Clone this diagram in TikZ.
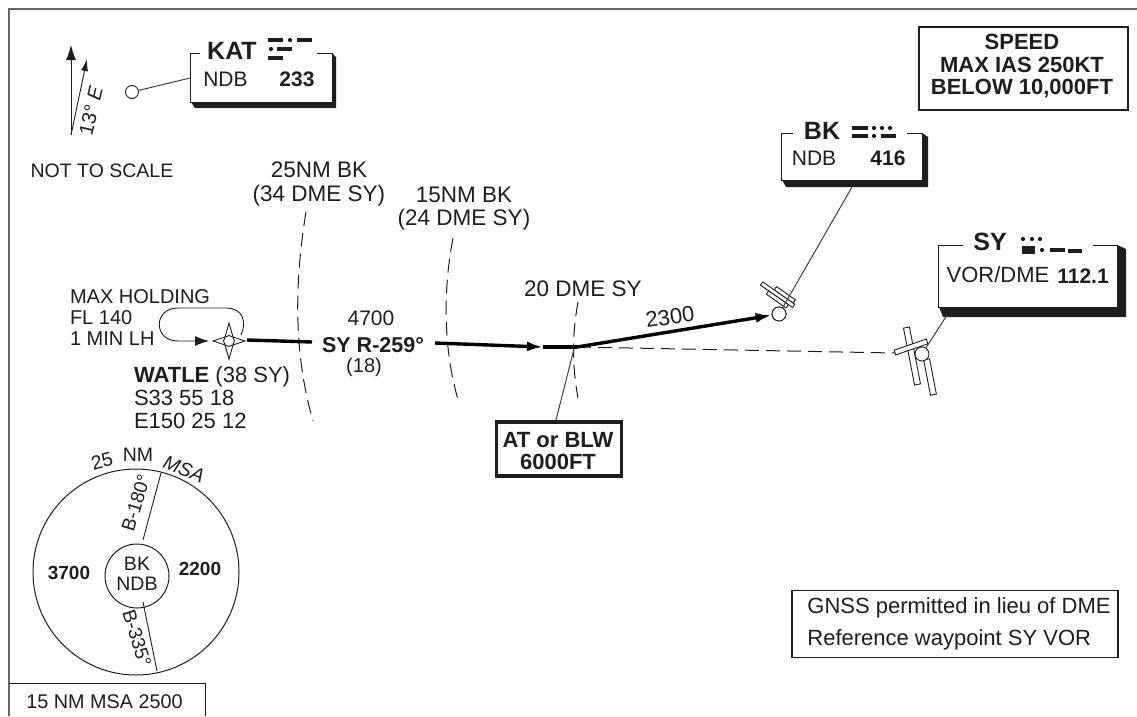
\documentclass[tikz,border=0pt]{standalone}
\usepackage{fontspec}
\setmainfont{Liberation Sans}
\usetikzlibrary{arrows.meta}
\newcommand{\fsz}[1]{\fontsize{#1}{#1}\selectfont}
\newcommand{\fszl}[2]{\fontsize{#1}{#2}\selectfont}
\newcommand{\mrsdash}[3]{\fill[ink] (#1,#3-2) rectangle (#2,#3+2);}
\newcommand{\mrsdot}[2]{\fill[ink] (#1,#2) circle (2.1);}
% x1 y1 x2 y2 gap1 gap2 sx sy
\newcommand{\navbox}[8]{%
  \fill[ink] (#1+1,#4) -- (#3,#4) -- (#3,#2) -- (#3+#7,#2+4) -- (#3+#7,#4+#8) -- (#1+5,#4+#8) -- cycle;
  \fill[white] (#1,#2) rectangle (#3,#4);
  \draw[thinline] (#5,#2) -- (#1,#2) -- (#1,#4) -- (#3,#4) -- (#3,#2) -- (#6,#2);
}
\tikzset{
  x=1pt,y=-1pt,
  ink/.style={color=inkc},
  thinline/.style={draw=inkc,line width=0.9pt},
  leader/.style={draw=inkc!85,line width=1pt},
  track/.style={draw=black,line width=3.4pt},
  dmearc/.style={draw=inkc,line width=1pt,dash pattern=on 14pt off 7pt},
  lbl/.style={text=inkc,inner sep=0pt,outer sep=0pt,align=center,anchor=center},
  lbll/.style={text=inkc,inner sep=0pt,outer sep=0pt,align=left,anchor=west},
  navaid/.style={circle,draw=inkc,line width=0.9pt,fill=white,inner sep=0pt,minimum size=13pt},
  symbar/.style={draw=inkc,line width=0.9pt,fill=white},
  txtbox/.style={draw=inkc,line width=1.1pt,fill=white,inner sep=0pt},
}
\definecolor{inkc}{HTML}{1E1E1E}
\begin{document}
\begin{tikzpicture}
\useasboundingbox (0,0) rectangle (1137,716);
\fill[white] (0,0) rectangle (1137,716);
% frame
\draw[draw=gray!80!black,line width=1.2pt] (9,716) -- (9,9) -- (1137,9);

% north arrows
\coordinate (nbase) at (71,135);
\coordinate (ntrue) at (71,45);
\coordinate (nmag) at (87,59);
\draw[thinline,-{Latex[length=15pt,width=10pt]}] (nbase) -- (ntrue);
\draw[thinline,-{Latex[length=12pt,width=7pt]}] (nbase) -- (nmag);
\node[lbl,rotate=77,font={\fsz{20}}] (var) at (91,111) {13° \textit{E}};

% KAT
\navbox{190}{53}{332}{102}{200}{317}{4}{6}
\node[navaid] (katc) at (132,92) {};
\coordinate (katend) at (190,78);
\draw[leader] (katc) -- (katend);
\node[lbl,font={\fsz{25}\bfseries}] (katname) at (232,51) {KAT};
\node[lbl,font={\fsz{21}}] (katndb) at (225.5,79) {NDB};
\node[lbl,font={\fsz{21}\bfseries}] (katfrq) at (297,79) {233};
\mrsdash{268}{283}{40}\mrsdot{290}{40}\mrsdash{297}{312}{40}
\mrsdot{271}{49}\mrsdash{277}{292}{49}
\mrsdash{268}{283}{58}

\node[lbl,font={\fsz{19.5}}] (nts) at (102,171) {NOT TO SCALE};

% speed box
\node[txtbox,line width=1.6pt,minimum width=209pt,minimum height=83pt] (speed) at (1023.5,68.5) {};
\node[lbl,font={\fszl{22}{22.5}\bfseries}] (speedt) at (1022,66.5) {SPEED\\MAX IAS 250KT\\BELOW 10,000FT};

% DME arcs
\coordinate (a1s) at (306,212); \coordinate (a1e) at (313,421);
\coordinate (a2s) at (453,238); \coordinate (a2e) at (459,403);
\coordinate (a3s) at (578,302); \coordinate (a3e) at (578,398);
\draw[dmearc] (a1s) .. controls (294,285) and (294,355) .. (a1e);
\draw[dmearc] (a2s) .. controls (443,290) and (443,350) .. (a2e);
\draw[dmearc] (a3s) .. controls (572,335) and (572,365) .. (a3e);
\node[lbl,font={\fszl{22.5}{24}}] (d25) at (319,184) {25NM BK\\(34 DME SY)};
\node[lbl,font={\fszl{22.5}{23}}] (d15) at (464,209) {15NM BK\\(24 DME SY)};
\node[lbl,font={\fsz{22.5}}] (d20) at (583,289) {20 DME SY};

% holding
\node[lbll,font={\fszl{20}{21}}] (hold) at (70,318) {MAX HOLDING\\FL 140\\1 MIN LH};
\coordinate (holdin) at (209,341);
\coordinate (holdout) at (241,335);
\draw[thinline,-{Latex[length=14pt,width=10pt]}] (holdout) .. controls (247,322) and (243,308) .. (226,308)
  -- (178,308) .. controls (153,308) and (153,341) .. (178,341) -- (holdin);

% tracks
\coordinate (wp) at (229,341);
\coordinate (t1) at (247,340);
\coordinate (t2) at (312,342);
\coordinate (t3) at (435,343);
\coordinate (t4) at (543,347);
\coordinate (fix) at (577,347);
\node[navaid,minimum size=14pt] (bkc) at (779,314) {};
\draw[draw=inkc,line width=1pt,dash pattern=on 14pt off 7pt] (fix) -- (895,353);
\draw[track] (t1) -- (t2);
\draw[track,-{Latex[length=16pt,width=10pt]}] (t3) -- (t4);
\draw[draw=black,line width=4.5pt] (t4) -- (fix);
\draw[track,-{Latex[length=16pt,width=10pt]}] (fix) -- (bkc);
% waypoint star
\filldraw[thinline,fill=white] (229,323) -- (233,337) -- (245,341) -- (233,345) -- (229,359) -- (225,345) -- (213,341) -- (225,337) -- cycle;
\node[navaid,minimum size=11pt] (wpc) at (wp) {};

\node[lbl,font={\fsz{21}}] (trk1) at (371,318) {4700};
\node[lbl,font={\fsz{21.5}\bfseries}] (trk2) at (373,345) {SY R-259°};
\node[lbl,font={\fsz{20}}] (trk3) at (364,367) {(18)};
\node[lbl,rotate=8,font={\fsz{22}}] (alt) at (670,317) {2300};

\node[lbll,font={\fsz{22}}] (wat) at (134,377) {\textbf{WATLE} (38 SY)};
\node[lbll,font={\fsz{22}}] (wat2) at (134,398) {S33 55 18};
\node[lbll,font={\fsz{22}}] (wat3) at (134,421) {E150 25 12};

% AT or BLW
\node[draw=inkc,line width=3.5pt,fill=white,minimum width=125pt,minimum height=54pt,inner sep=0pt] (atb) at (559,449) {};
\node[lbl,font={\fszl{22}{22}\bfseries}] (atbt) at (558,451) {AT or BLW\\6000FT};
\coordinate (atbtop) at (556,420);
\draw[leader] (atbtop) -- (574,349);

% BK
\navbox{781}{133}{922}{180}{793}{907}{6}{7}
\coordinate (bkend) at (852,187);
\begin{scope}[shift={(778,295)},rotate=-35]
\filldraw[symbar] (-6,-6) rectangle (17,-2);
\filldraw[symbar] (-20,-2) rectangle (19,2);
\filldraw[symbar] (-10,2) rectangle (14,6);
\end{scope}
\draw[leader] (bkend) -- (bkc);
\node[navaid,minimum size=14pt] (bkc2) at (bkc) {};
\node[lbl,font={\fsz{25}\bfseries}] (bkname) at (822,131) {BK};
\node[lbl,font={\fsz{21}}] (bkndb) at (814,158) {NDB};
\node[lbl,font={\fsz{21}\bfseries}] (bkfrq) at (888,158) {416};
\mrsdash{852}{868}{128}\mrsdot{874}{128}\mrsdot{882}{128}\mrsdot{890}{128}
\mrsdash{852}{868}{136}\mrsdot{874}{136}\mrsdash{881}{896}{136}

% SY
\navbox{938}{245}{1117}{307}{963}{1093}{9}{10}
\coordinate (syend) at (947,315);
\begin{scope}[shift={(912,356)},rotate=11]
\filldraw[symbar] (-3,-29) rectangle (3,29);
\end{scope}
\begin{scope}[shift={(911,347)},rotate=19]
\filldraw[symbar] (-17,-2.5) rectangle (17,2.5);
\end{scope}
\begin{scope}[shift={(930,377)},rotate=11]
\filldraw[symbar] (-3,-18) rectangle (3,18);
\end{scope}
\node[navaid,minimum size=14pt] (syc) at (922,354) {};
\draw[leader] (syend) -- (syc);
\node[lbl,font={\fsz{25}\bfseries}] (syname) at (990,242) {SY};
\node[lbl,font={\fsz{22}}] (syvor) at (998,275) {VOR/DME};
\node[lbl,font={\fsz{21}\bfseries}] (syfrq) at (1083,276) {112.1};
\mrsdot{1023}{239}\mrsdot{1032}{239}\mrsdot{1040}{239}
\mrsdash{1022}{1035}{248}\mrsdash{1022}{1035}{252}\mrsdot{1042}{250}
\mrsdash{1050}{1065}{250}\mrsdash{1068}{1082}{251}

% MSA
\node[circle,draw=inkc,line width=1pt,minimum size=206pt,inner sep=0pt] (msa) at (136,572) {};
\node[circle,draw=inkc,line width=1pt,minimum size=64pt,inner sep=0pt] (msac) at (137,576) {};
\node[lbl,font={\fszl{19.5}{19.5}}] (msat) at (137,574) {BK\\NDB};
\coordinate (mu1) at (143,540); \coordinate (mu2) at (161,473);
\coordinate (ml1) at (143,602); \coordinate (ml2) at (157,671);
\draw[thinline] (mu1) -- (mu2);
\draw[thinline] (ml1) -- (ml2);
\node[lbl,rotate=73,font={\fsz{19}}] (b180) at (136,503) {B-180°};
\node[lbl,rotate=-73,font={\fsz{19}}] (b335) at (137,638) {B-335°};
\node[lbl,font={\fsz{19}\bfseries}] (m37) at (69,573) {3700};
\node[lbl,font={\fsz{19}\bfseries}] (m22) at (200,569) {2200};
\node[lbl,rotate=15,font={\fsz{19.5}}] (m25) at (102,461) {25};
\node[lbl,font={\fsz{19.5}}] (mnm) at (138,455) {NM};
\node[lbl,rotate=-22,font={\fsz{19.5}}] (mms) at (184,469) {\textit{MSA}};

% 15NM box
\draw[draw=inkc,line width=1pt] (9,683) -- (205,683) -- (205,716);
\node[lbl,font={\fsz{19.8}}] (m15) at (104.5,702) {15 NM MSA 2500};

% GNSS
\node[txtbox,minimum width=326pt,minimum height=67pt] (gnss) at (955,624) {};
\node[lbl,align=left,font={\fszl{22}{32}}] (gnsst) at (959,624) {GNSS permitted in lieu of DME\\Reference waypoint SY VOR};
\end{tikzpicture}
\end{document}
